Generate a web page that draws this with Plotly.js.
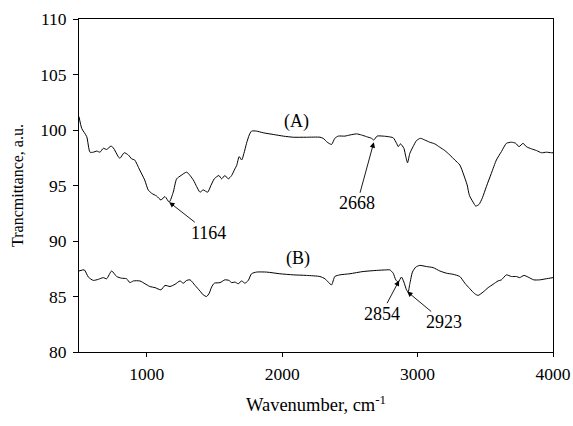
<!DOCTYPE html>
<html>
<head>
<meta charset="utf-8">
<script src="https://cdn.plot.ly/plotly-3.0.1.min.js"></script>
<style>html,body{margin:0;padding:0;background:#fff;}#chart{width:573px;height:426px;}</style>
</head>
<body>
<div id="chart"></div>
<script>
// Spectrum (A)
const waveA = [500,520,557,581,606,631,655,679,704,736,753,790,802,834,864,889,911,948,985,1011,1036,1073,1105,1135,1166,1196,1221,1253,1295,1344,1369,1393,1417,1450,1474,1499,1533,1553,1577,1602,1627,1651,1664,1683,1701,1718,1737,1757,1774,1811,1860,1934,2008,2082,2180,2279,2303,2333,2365,2389,2414,2463,2500,2549,2586,2623,2660,2677,2701,2746,2783,2820,2845,2857,2874,2899,2913,2926,2943,2967,2992,3021,3053,3090,3127,3164,3201,3238,3275,3312,3341,3366,3383,3410,3429,3454,3479,3508,3545,3582,3619,3656,3693,3725,3749,3779,3803,3841,3878,3915,3951,3988,4000];
const transA = [101.2,100.15,99.4,98.0,98.0,98.1,98.0,98.35,98.25,98.55,98.4,97.6,97.45,97.95,97.75,97.4,97.3,96.4,95.5,94.6,94.3,94.05,93.7,94.0,93.5,94.4,95.6,95.9,96.2,95.5,94.9,94.4,94.6,94.4,95.0,95.6,95.9,95.6,95.9,95.6,95.9,96.5,96.8,97.6,97.3,97.9,98.8,99.55,99.9,99.9,99.75,99.6,99.45,99.35,99.35,99.35,99.25,98.9,98.7,99.25,99.45,99.45,99.55,99.65,99.55,99.4,99.25,99.1,99.45,99.45,99.4,99.3,98.8,98.5,98.75,98.35,97.6,97.05,97.9,98.5,99.05,99.25,99.1,98.9,98.75,98.45,98.15,97.75,97.3,96.85,95.95,95.05,94.1,93.5,93.15,93.3,93.9,94.9,96.1,97.3,98.05,98.8,98.9,98.8,98.5,98.8,98.5,98.3,98.15,97.95,98.0,97.95,97.95];
// Spectrum (B)
const waveB = [500,539,569,606,643,679,704,741,778,814,851,876,901,950,987,1023,1061,1105,1135,1172,1209,1246,1270,1295,1320,1357,1393,1417,1442,1462,1479,1499,1541,1577,1607,1627,1651,1676,1701,1725,1750,1774,1811,1885,1983,2082,2180,2279,2316,2340,2365,2389,2426,2500,2598,2697,2770,2795,2820,2839,2857,2881,2899,2918,2930,2943,2962,2987,3016,3065,3115,3164,3213,3262,3312,3349,3386,3422,3447,3484,3521,3558,3594,3619,3656,3693,3730,3754,3786,3816,3858,3902,3951,4000];
const transB = [87.3,87.4,86.75,86.45,86.55,86.7,86.6,87.3,86.8,86.65,86.6,86.25,86.4,86.4,86.15,85.9,85.8,85.6,86.0,85.9,86.1,86.4,86.2,86.45,86.5,86.0,85.5,85.15,85.0,85.3,85.85,86.2,86.25,86.5,86.45,86.25,86.3,86.15,86.4,86.2,86.45,87.05,87.2,87.2,87.05,86.95,86.9,86.8,86.6,86.3,86.05,86.8,86.95,87.05,87.25,87.35,87.4,87.4,87.1,86.5,86.3,86.75,86.3,85.6,85.4,86.15,87.2,87.65,87.8,87.7,87.6,87.3,87.1,87.0,86.8,86.2,85.7,85.25,85.1,85.4,85.8,86.1,86.4,86.5,86.95,86.8,86.8,86.7,86.9,86.75,86.5,86.5,86.6,86.7];
// Labels
const seriesLabels = ['(A)', '(B)'];
const labelPos = [[2107, 100.75], [2118, 88.4]];
const peakLabels = ['1164', '2668', '2854', '2923'];
const peakTips = [[1166, 93.5], [2677, 98.9], [2864, 86.45], [2923, 85.45]];
const peakTextPos = [[1454, 90.75], [2554, 93.4], [2734, 83.45], [3194, 82.7]];

const font = {family: 'Liberation Serif, Times New Roman, serif', color: '#000'};
const traces = [
  {x: waveA, y: transA, mode: 'lines', line: {color: '#000', width: 1, shape: 'spline', smoothing: 0.6}, hoverinfo: 'skip'},
  {x: waveB, y: transB, mode: 'lines', line: {color: '#000', width: 1, shape: 'spline', smoothing: 0.6}, hoverinfo: 'skip'}
];
const annotations = [];
seriesLabels.forEach((t, i) => annotations.push({x: labelPos[i][0], y: labelPos[i][1], xref: 'x', yref: 'y', text: t, showarrow: false, font: Object.assign({size: 18}, font)}));
peakLabels.forEach((t, i) => {
  annotations.push({x: peakTips[i][0], y: peakTips[i][1], xref: 'x', yref: 'y', axref: 'x', ayref: 'y',
    ax: peakTextPos[i][0], ay: peakTextPos[i][1], text: t, showarrow: true, arrowhead: 2, arrowsize: 1.2,
    arrowwidth: 0.9, arrowcolor: '#000', standoff: 0, borderpad: 0, font: Object.assign({size: 18}, font)});
});
const layout = {
  width: 573, height: 426,
  margin: {l: 79, r: 20, t: 19, b: 74},
  paper_bgcolor: '#fff', plot_bgcolor: '#fff',
  showlegend: false,
  font: Object.assign({size: 17}, font),
  xaxis: {range: [500, 4000], tickvals: [1000, 2000, 3000, 4000], ticks: 'outside', ticklen: 4, tickwidth: 1, tickcolor: '#000',
    showline: true, linecolor: '#000', linewidth: 1, mirror: true, showgrid: false, zeroline: false,
    ticklabelstandoff: 2,
    tickfont: Object.assign({size: 17.5}, font),
    title: {text: 'Wavenumber, cm<sup>-1</sup>', font: Object.assign({size: 18.5}, font), standoff: 15}},
  yaxis: {range: [80, 110], dtick: 5, ticks: 'outside', ticklen: 5, tickwidth: 1, tickcolor: '#000',
    showline: true, linecolor: '#000', linewidth: 1, mirror: true, showgrid: false, zeroline: false,
    ticklabelstandoff: 3,
    tickfont: Object.assign({size: 17.5}, font),
    title: {text: 'Trancmittance, a.u.', font: Object.assign({size: 16}, font), standoff: 12}},
  annotations: annotations
};
Plotly.newPlot('chart', traces, layout, {staticPlot: true, displayModeBar: false});
</script>
</body>
</html>
